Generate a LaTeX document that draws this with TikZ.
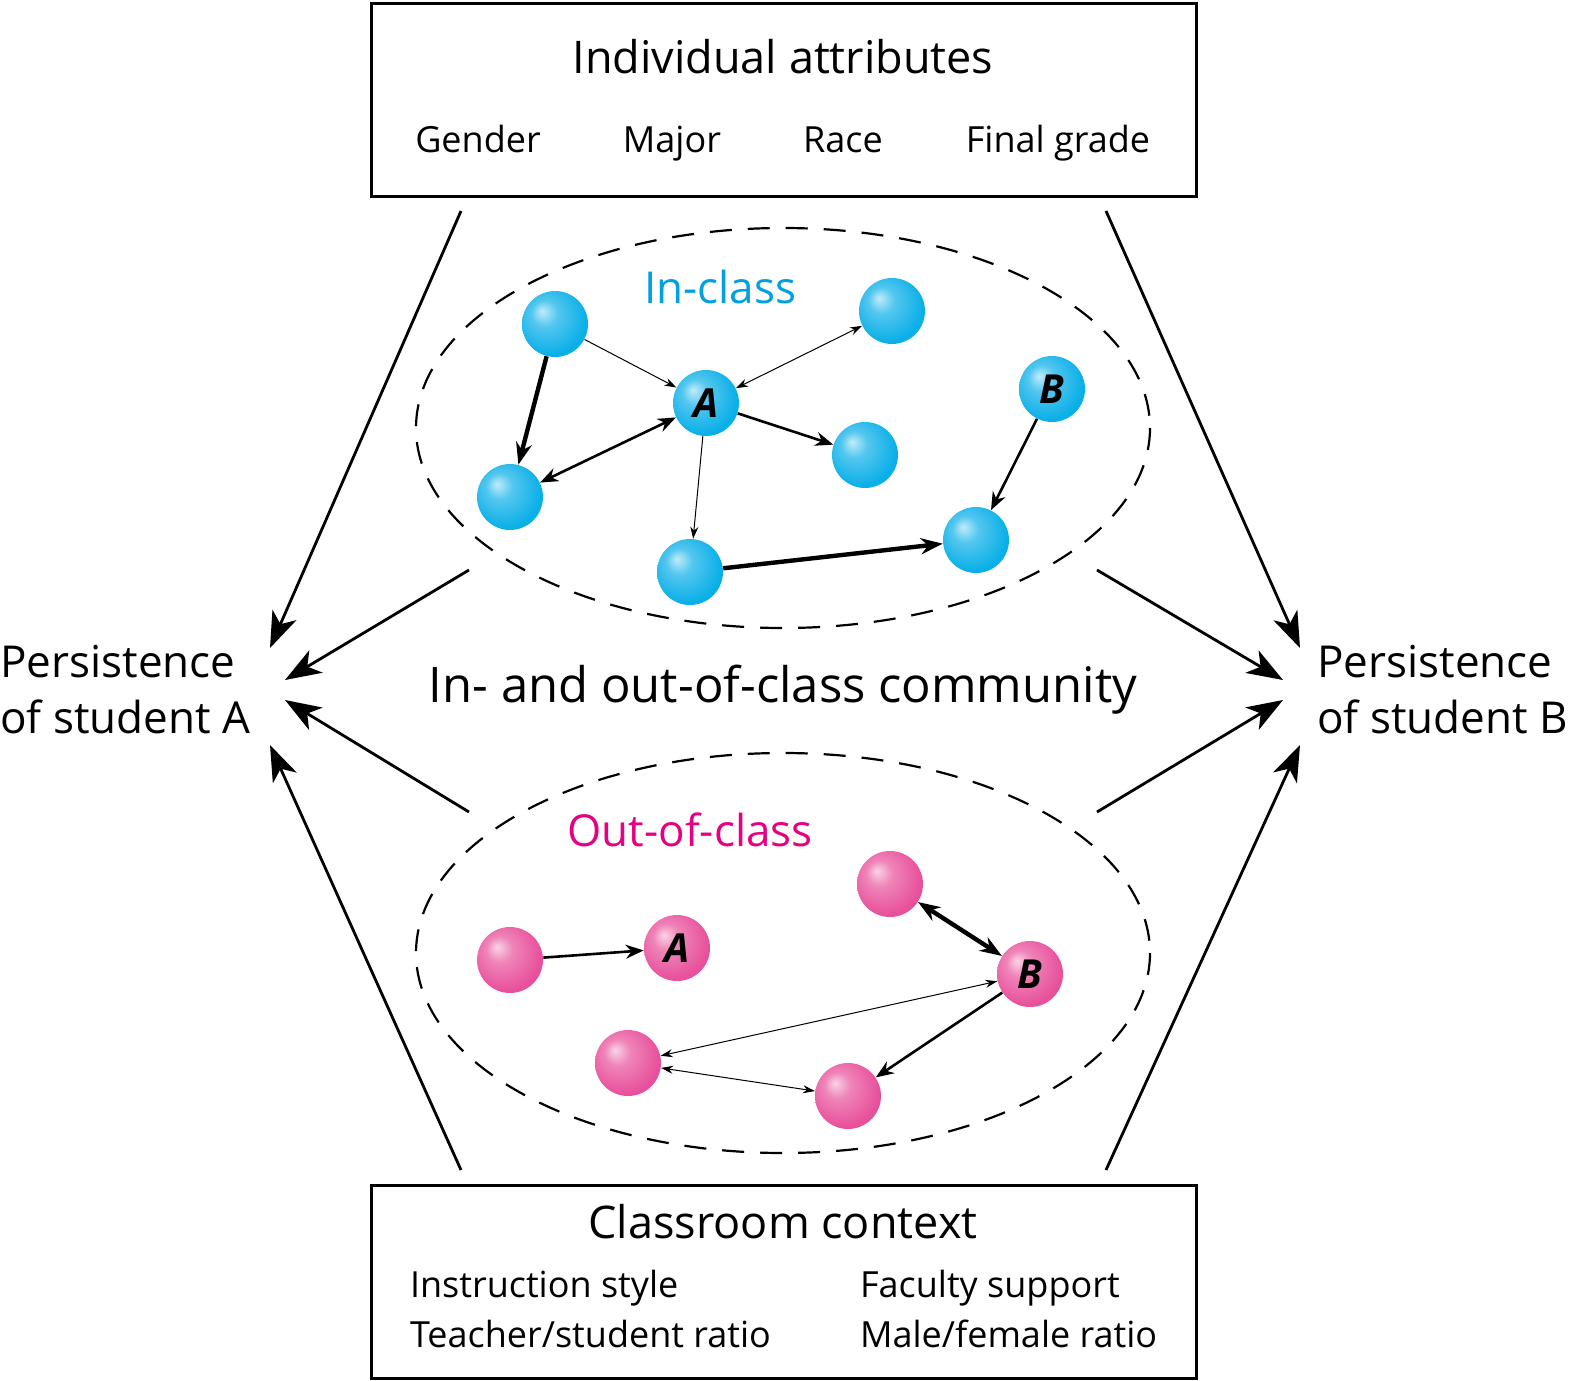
\documentclass[tikz,border=0pt]{standalone}
\usepackage{fontspec}
\setmainfont{Open Sans}
\usetikzlibrary{arrows.meta}
\definecolor{cy}{RGB}{10,175,232}
\definecolor{pk}{RGB}{232,80,155}
\definecolor{cyt}{RGB}{0,160,225}
\definecolor{pkt}{RGB}{230,0,130}
\pgfdeclareradialshading{cshade}{\pgfpoint{-10bp}{10bp}}{color(0bp)=(white!75!cy); color(10bp)=(white!30!cy); color(28bp)=(cy); color(50bp)=(cy)}
\pgfdeclareradialshading{pshade}{\pgfpoint{-10bp}{10bp}}{color(0bp)=(white!75!pk); color(10bp)=(white!30!pk); color(28bp)=(pk); color(50bp)=(pk)}
\begin{document}
\begin{tikzpicture}[x=0.5pt,y=-0.5pt,
  cball/.style={circle,minimum size=33pt,inner sep=0pt,shading=cshade},
  pball/.style={circle,minimum size=33pt,inner sep=0pt,shading=pshade},
  lab/.style={font=\fontsize{20}{20}\selectfont\bfseries\itshape},
  box/.style={draw,line width=1.5pt},
  big/.style={line width=1.4pt,-{Stealth[length=18pt,width=13pt,inset=5pt]}},
  thn/.style={line width=0.5pt,-{Stealth[length=6pt,width=4pt]}},
  med/.style={line width=1.3pt,-{Stealth[length=9pt,width=7pt]}},
  thk/.style={line width=2.2pt,-{Stealth[length=11pt,width=8pt]}},
  ell/.style={dash pattern=on 11pt off 8pt,line width=1.1pt}]
\useasboundingbox (0,0) rectangle (1569,1381);
% boxes
\node[box,minimum width=412.5pt,minimum height=96.5pt] (top) at (783.5,99.5) {};
\node[box,minimum width=412.5pt,minimum height=96.5pt] (bot) at (783.5,1281.5) {};
\node[font=\fontsize{22.5}{22}\selectfont] at (783,57) {Individual attributes};
\begin{scope}[every node/.style={font=\fontsize{18}{18}\selectfont,anchor=base}]
\node at (478,152) {Gender};
\node at (672,152) {Major};
\node at (843,152) {Race};
\node at (1058,152) {Final grade};
\node[anchor=base west] at (403,1297) {Instruction style};
\node[anchor=base west] at (403,1347) {Teacher/student ratio};
\node[anchor=base west] at (853,1297) {Faculty support};
\node[anchor=base west] at (853,1347) {Male/female ratio};
\end{scope}
\node[font=\fontsize{22.5}{22}\selectfont] at (783,1222) {Classroom context};
\node[font=\fontsize{24.5}{24}\selectfont] at (783,690) {In- and out-of-class community};
\node[font=\fontsize{22}{28}\selectfont,anchor=west,align=left,inner sep=0pt] at (0,690) {Persistence\\of student A};
\node[font=\fontsize{22}{28}\selectfont,anchor=west,align=left,inner sep=0pt] at (1317,690) {Persistence\\of student B};
% ellipses
\draw[ell] (783,428) ellipse [x radius=367,y radius=200];
\draw[ell] (783,953) ellipse [x radius=367,y radius=200];
\node[text=cyt,font=\fontsize{22}{22}\selectfont] at (720,287) {In-class};
\node[text=pkt,font=\fontsize{22}{22}\selectfont] at (690,830) {Out-of-class};
% big arrows
\coordinate (t1) at (461,211); \coordinate (h1) at (270,648);
\coordinate (t2) at (1106,211); \coordinate (h2) at (1300,648);
\coordinate (t3) at (469,570); \coordinate (h3) at (285,680);
\coordinate (t4) at (1097,570); \coordinate (h4) at (1283,680);
\coordinate (t5) at (469,812); \coordinate (h5) at (285,700);
\coordinate (t6) at (1097,812); \coordinate (h6) at (1283,700);
\coordinate (t7) at (461,1170); \coordinate (h7) at (270,745);
\coordinate (t8) at (1106,1170); \coordinate (h8) at (1300,745);
\foreach \i in {1,...,8} \draw[big] (t\i) -- (h\i);
% in-class balls
\node[cball] (n1) at (555,324) {};
\node[cball] (n2) at (892,311) {};
\node[cball,lab] (A) at (706,403) {A};
\node[cball] (n4) at (865,455) {};
\node[cball,lab] (B) at (1052,389) {B};
\node[cball] (n6) at (510,497) {};
\node[cball] (n7) at (690,572) {};
\node[cball] (n8) at (976,540) {};
\draw[thn] (n1) -- (A);
\draw[thn,{Stealth[length=6pt,width=4pt]}-{Stealth[length=6pt,width=4pt]}] (A) -- (n2);
\draw[thk] (n1) -- (n6);
\draw[med,{Stealth[length=9pt,width=7pt]}-{Stealth[length=9pt,width=7pt]}] (n6) -- (A);
\draw[med] (A) -- (n4);
\draw[thn] (A) -- (n7);
\draw[thk] (n7) -- (n8);
\draw[med] (B) -- (n8);
% out-of-class balls
\node[pball] (p1) at (510,960) {};
\node[pball,lab] (pA) at (677,948) {A};
\node[pball] (p3) at (890,884) {};
\node[pball,lab] (pB) at (1030,974) {B};
\node[pball] (p5) at (628,1063) {};
\node[pball] (p6) at (848,1096) {};
\draw[med] (p1) -- (pA);
\draw[thk,{Stealth[length=11pt,width=8pt]}-{Stealth[length=11pt,width=8pt]}] (p3) -- (pB);
\draw[thn,{Stealth[length=6pt,width=4pt]}-{Stealth[length=6pt,width=4pt]}] (p5) -- (pB);
\draw[med] (pB) -- (p6);
\draw[thn,{Stealth[length=6pt,width=4pt]}-{Stealth[length=6pt,width=4pt]}] (p5) -- (p6);
\end{tikzpicture}
\end{document}
